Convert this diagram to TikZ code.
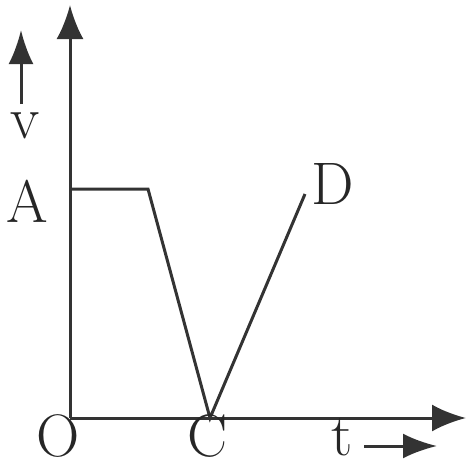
\documentclass[tikz,border=0pt]{standalone}
\usepackage{tikz}
\usetikzlibrary{arrows.meta}

\begin{document}
\begin{tikzpicture}[x=1pt,y=-1pt,line width=3pt,draw=black!80,
  >={Latex[length=34pt,width=27pt]},
  lab/.style={inner sep=0pt,text=black!85,font=\fontsize{60}{60}\selectfont}]
\useasboundingbox (0,0) rectangle (466,469);
% axes
\coordinate (O) at (70,418);
\coordinate (ytip) at (70,5);
\coordinate (xtip) at (466,418);
\draw[->] (O) -- (ytip);
\draw[->] (O) -- (xtip);
% graph
\coordinate (A) at (70,189);
\coordinate (B) at (148,189);
\coordinate (C) at (210,418);
\coordinate (D) at (305,194);
\draw[line join=miter] (A) -- (B) -- (C) -- (D);
% labels
\node[lab] (labA) at (27,201) {A};
\node[lab] (labO) at (58,436) {O};
\node[lab] (labC) at (208,436) {C};
\node[lab] (labD) at (333,184) {D};
\node[lab] (labv) at (25,126) {v};
\node[lab] (labt) at (342,437) {t};
% small direction arrows
\coordinate (vtail) at (21,104);
\coordinate (vtip) at (21,30);
\draw[->,>={Latex[length=34pt,width=25pt]}] (vtail) -- (vtip);
\coordinate (ttail) at (364,446);
\coordinate (ttip) at (437,446);
\draw[->,>={Latex[length=34pt,width=25pt]}] (ttail) -- (ttip);
\end{tikzpicture}
\end{document}
